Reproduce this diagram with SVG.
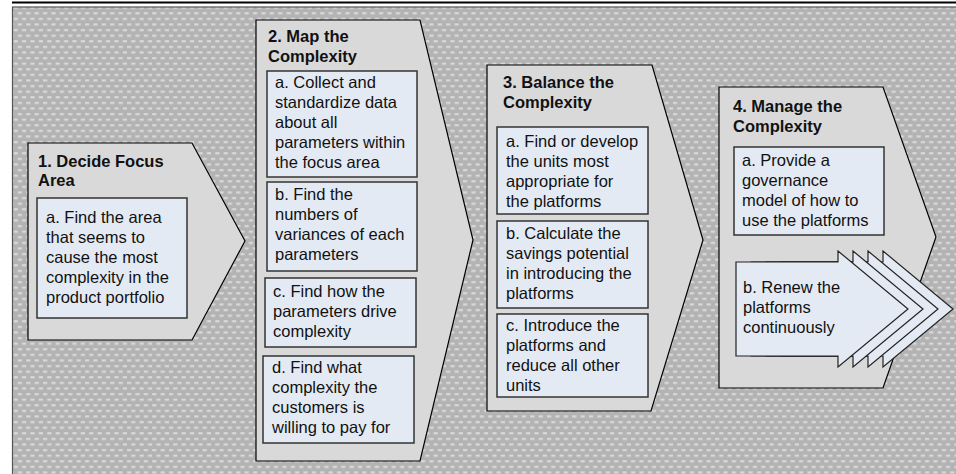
<svg xmlns="http://www.w3.org/2000/svg" width="956" height="474" viewBox="0 0 956 474">
<defs>
<pattern id="bg" x="0" y="0" width="8.4" height="11.2" patternUnits="userSpaceOnUse">
<rect width="8.4" height="11.2" fill="#b3b3b3"/>
<rect x="1" y="1" width="4.2" height="2.2" fill="#d9d9d9"/>
<rect x="5.2" y="6.6" width="4.2" height="2.2" fill="#d9d9d9"/>
<rect x="-3.2" y="6.6" width="4.2" height="2.2" fill="#d9d9d9"/>
</pattern>
<style>
.step{fill:#d9d9d9;stroke:#000;stroke-width:1.2}
.box{fill:#e4eaf4;stroke:#333;stroke-width:1.5}
.arr{fill:#e4eaf4;stroke:#222;stroke-width:1.2}
text{font-family:"Liberation Sans",Arial,sans-serif;font-size:16.5px;fill:#111}
.t{font-weight:bold}
</style>
</defs>
<rect width="956" height="474" fill="#fff"/>
<line x1="12" y1="2.5" x2="956" y2="2.5" stroke="#000" stroke-width="2"/>
<rect x="12.5" y="7" width="960" height="480" fill="url(#bg)" stroke="#555" stroke-width="1.2"/>

<g id="connectors"/>

<g id="step1">
<polygon class="step" points="28,143 192,143 245,241 192,340 28,340"/>
<text class="t" x="38" y="167">1. Decide Focus</text>
<text class="t" x="38" y="186">Area</text>
</g>
<g id="step1a">
<rect class="box" x="37" y="198" width="150" height="120"/>
<text x="46" y="223">a. Find the area</text>
<text x="46" y="243">that seems to</text>
<text x="46" y="263">cause the most</text>
<text x="46" y="283">complexity in the</text>
<text x="46" y="303">product portfolio</text>
</g>

<g id="step2">
<polygon class="step" points="256,20 420,20 473,240 420,461 256,461"/>
<text class="t" x="268" y="42">2. Map the</text>
<text class="t" x="268" y="62">Complexity</text>
</g>
<g id="step2a">
<rect class="box" x="267" y="71" width="150" height="106"/>
<text x="275" y="88">a. Collect and</text>
<text x="275" y="108">standardize data</text>
<text x="275" y="128">about all</text>
<text x="275" y="148">parameters within</text>
<text x="275" y="168">the focus area</text>
</g>
<g id="step2b">
<rect class="box" x="267" y="182" width="150" height="89"/>
<text x="275" y="200">b. Find the</text>
<text x="275" y="220">numbers of</text>
<text x="275" y="240">variances of each</text>
<text x="275" y="260">parameters</text>
</g>
<g id="step2c">
<rect class="box" x="265" y="278" width="151" height="69"/>
<text x="273" y="297">c. Find how the</text>
<text x="273" y="317">parameters drive</text>
<text x="273" y="337">complexity</text>
</g>
<g id="step2d">
<rect class="box" x="263" y="356" width="151" height="87"/>
<text x="272" y="373">d. Find what</text>
<text x="272" y="393">complexity the</text>
<text x="272" y="413">customers is</text>
<text x="272" y="433">willing to pay for</text>
</g>

<g id="step3">
<polygon class="step" points="487,65 652,65 703,240 651,411 487,411"/>
<text class="t" x="503" y="88">3. Balance the</text>
<text class="t" x="503" y="108">Complexity</text>
</g>
<g id="step3a">
<rect class="box" x="497" y="127" width="151" height="87"/>
<text x="506" y="147">a. Find or develop</text>
<text x="506" y="167">the units most</text>
<text x="506" y="187">appropriate for</text>
<text x="506" y="207">the platforms</text>
</g>
<g id="step3b">
<rect class="box" x="497" y="221" width="151" height="87"/>
<text x="506" y="239">b. Calculate the</text>
<text x="506" y="259">savings potential</text>
<text x="506" y="279">in introducing the</text>
<text x="506" y="299">platforms</text>
</g>
<g id="step3c">
<rect class="box" x="497" y="314" width="151" height="83"/>
<text x="506" y="331">c. Introduce the</text>
<text x="506" y="351">platforms and</text>
<text x="506" y="371">reduce all other</text>
<text x="506" y="391">units</text>
</g>

<g id="step4">
<polygon class="step" points="719,87 883,87 936,237 883,388 719,388"/>
<text class="t" x="733" y="112">4. Manage the</text>
<text class="t" x="733" y="132">Complexity</text>
</g>
<g id="step4a">
<rect class="box" x="734" y="147" width="150" height="88"/>
<text x="742" y="166">a. Provide a</text>
<text x="742" y="186">governance</text>
<text x="742" y="206">model of how to</text>
<text x="742" y="226">use the platforms</text>
</g>
<g id="step4b">
<polygon class="arr" points="781,262 883,262 883,251 953,309 883,367 883,356 781,356"/>
<polygon class="arr" points="766,262 868,262 868,251 938,309 868,367 868,356 766,356"/>
<polygon class="arr" points="751,262 853,262 853,251 923,309 853,367 853,356 751,356"/>
<polygon class="arr" points="736,262 838,262 838,251 908,309 838,367 838,356 736,356"/>
<text x="743" y="293">b. Renew the</text>
<text x="743" y="313">platforms</text>
<text x="743" y="333">continuously</text>
</g>
</svg>
